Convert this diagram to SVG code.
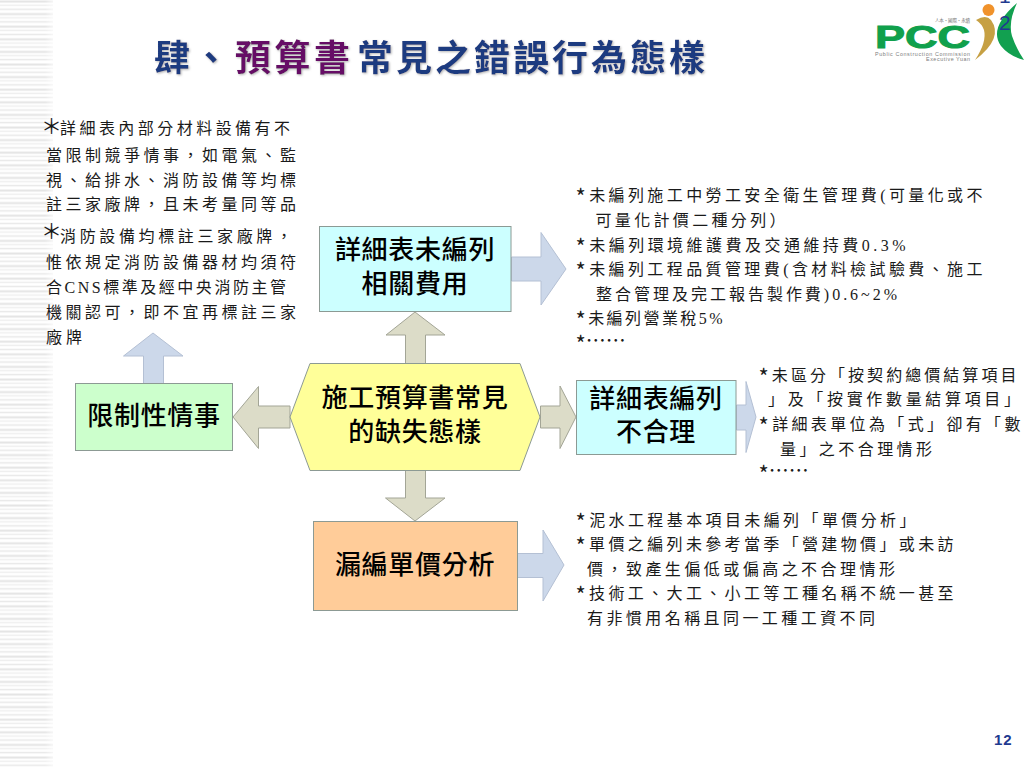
<svg xmlns="http://www.w3.org/2000/svg" width="1024" height="768" viewBox="0 0 1024 768">
<style>
.b{font-family:"Liberation Serif","Noto Sans CJK TC",serif;font-size:16px;fill:#1a1a1a}
.a{font-family:"Noto Sans CJK TC",sans-serif;font-size:22px}
.e{font-family:"Noto Sans CJK TC",sans-serif;font-size:20px}
.n{font-family:"Liberation Sans","Noto Sans CJK TC",sans-serif;font-size:26px;font-weight:500;fill:#000;text-anchor:middle;letter-spacing:.7px}
.box{stroke:#8c9a94;stroke-width:1}
.ag{fill:#dcdcc8;stroke:#a3a596;stroke-width:1}
.ab{fill:#ccd8ea;stroke:#b4c0d4;stroke-width:1}
.t{font-family:"Liberation Serif","Noto Sans CJK TC",serif;font-size:36px;font-weight:700;letter-spacing:3px;filter:url(#sh)}
.big{font-family:"Noto Sans CJK TC",sans-serif;font-size:21px;fill:#1a1a1a}
</style>
<defs>
<filter id="sh" x="-5%" y="-20%" width="110%" height="140%"><feDropShadow dx="1" dy="1" stdDeviation=".8" flood-color="#b5b5b5"/></filter>
<pattern id="st" width="53" height="12.6" patternUnits="userSpaceOnUse">
<rect width="53" height="2" y="0.5" fill="#e4e4e4"/><rect width="53" height="1.5" y="4.5" fill="#efefef"/><rect width="53" height="1.5" y="8.5" fill="#e8e8e8"/>
</pattern>
<linearGradient id="fade"><stop offset="0" stop-color="#fff" stop-opacity="0"/><stop offset="1" stop-color="#fff" stop-opacity=".6"/></linearGradient>
</defs>
<rect width="1024" height="768" fill="#fff"/>
<g id="stripes"><rect width="53" height="768" fill="url(#st)"/><rect x="45" width="8" height="768" fill="url(#fade)"/></g>
<g id="title"><text class="t" y="71"><tspan x="154" fill="#1f3a80">肆、</tspan><tspan x="235" fill="#660a66" letter-spacing="3.5">預算書</tspan><tspan x="357" fill="#1f3a80">常見之錯誤行為態樣</tspan></text></g>
<g id="logo">
<text x="875" y="47.5" font-family="Liberation Sans" font-weight="700" font-size="31" fill="#10a04c" textLength="95" lengthAdjust="spacingAndGlyphs" stroke="#10a04c" stroke-width="1">PCC</text>
<text x="875" y="56" font-family="Liberation Sans" font-size="5.4" fill="#7d7d7d" textLength="95">Public Construction Commission</text>
<text x="926" y="61" font-family="Liberation Sans" font-size="5.4" fill="#7d7d7d" textLength="44">Executive Yuan</text>
<text x="935" y="22" font-family="Noto Sans CJK TC" font-size="4.5" fill="#7a7a7a" textLength="35">人本‧國際‧永續</text>
<circle cx="988.5" cy="10" r="6" fill="#f0922b"/>
<path d="M976 20Q986 14 991 20Q1004 38 975 60Q987 42 984 30Q982 24 976 20Z" fill="#c6a043"/>
<path d="M1017 3Q988 28 1001 46Q1009 56 1024 60Q1016 48 1012 36Q1008 22 1017 3Z" fill="#12a050"/>
<text x="999" y="3" font-family="Liberation Sans" font-size="21" fill="#1f3a90">1</text>
<text x="999" y="30" font-family="Liberation Sans" font-size="21" fill="#1f3a90">2</text>
</g>
<g id="connectors">
<path class="ag" d="M415 312L445 335H425.5V363.5H405.5V335H386Z"/>
<path class="ab" d="M153 333L183 356H163.5V383.5H143.5V356H123.5Z"/>
<path class="ag" d="M233 417L258.5 386.5V406H290V428H258.5V448.5Z"/>
<path class="ag" d="M576 417L560 386V406H540.5V428H560V448.5Z"/>
<path class="ag" d="M415 521L445 498H425.5V470.5H405.5V498H385.5Z"/>
<path class="ab" d="M566 269L541 232.5V257H511.5V281H541V305Z"/>
<path class="ab" d="M756 417L746 381.5V405H736.5V430H746V452.5Z"/>
<path class="ab" d="M564 565L543 530V553.5H517.5V577.5H543V601Z"/>
</g>
<g id="node-fee"><rect class="box" x="319.5" y="226.5" width="191.5" height="85" fill="#ccffff"/><text class="n" x="415" y="259">詳細表未編列</text><text class="n" x="415" y="293">相關費用</text></g>
<g id="node-limit"><rect class="box" x="75.5" y="383.5" width="157" height="67" fill="#ccffcc"/><text class="n" x="154" y="425">限制性情事</text></g>
<g id="node-center"><path class="box" d="M290 417L310 363.5H520L540 417L520 470.5H310Z" fill="#ffff99"/><text class="n" x="415" y="407">施工預算書常見</text><text class="n" x="415" y="441">的缺失態樣</text></g>
<g id="node-detail"><rect class="box" x="576.5" y="380.5" width="159.5" height="74" fill="#ccffff"/><text class="n" x="656" y="408">詳細表編列</text><text class="n" x="656" y="441">不合理</text></g>
<g id="node-price"><rect class="box" x="313.5" y="521.5" width="204" height="89" fill="#ffcc99"/><text class="n" x="415" y="574">漏編單價分析</text></g>
<g id="notes-left">
<text class="big" x="41" y="134">＊</text>
<text class="b" x="60" y="134" textLength="230">詳細表內部分材料設備有不</text>
<text class="b" x="46" y="161" textLength="250">當限制競爭情事，如電氣、監</text>
<text class="b" x="46" y="186" textLength="250">視、給排水、消防設備等均標</text>
<text class="b" x="46" y="210" textLength="250">註三家廠牌，且未考量同等品</text>
<text class="big" x="41" y="239">＊</text>
<text class="b" x="60" y="242" textLength="232">消防設備均標註三家廠牌，</text>
<text class="b" x="46" y="268" textLength="250">惟依規定消防設備器材均須符</text>
<text class="b" x="46" y="293" textLength="240">合CNS標準及經中央消防主管</text>
<text class="b" x="46" y="318" textLength="250">機關認可，即不宜再標註三家</text>
<text class="b" x="46" y="343" textLength="36">廠牌</text>
</g>
<g id="notes-fee">
<text class="b" x="575.5" y="201" textLength="407"><tspan class="a" dy="4">*</tspan><tspan dy="-4">未編列施工中勞工安全衛生管理費(可量化或不</tspan></text>
<text class="b" x="595.5" y="226" textLength="190">可量化計價二種分列）</text>
<text class="b" x="575.5" y="251" textLength="330"><tspan class="a" dy="4">*</tspan><tspan dy="-4">未編列環境維護費及交通維持費0.3%</tspan></text>
<text class="b" x="575.5" y="275" textLength="407"><tspan class="a" dy="4">*</tspan><tspan dy="-4">未編列工程品質管理費(含材料檢試驗費、施工</tspan></text>
<text class="b" x="596" y="300" textLength="301">整合管理及完工報告製作費)0.6~2%</text>
<text class="b" x="575.5" y="324" textLength="147"><tspan class="a" dy="4">*</tspan><tspan dy="-4">未編列營業稅5%</tspan></text>
<text class="b" x="575.5" y="348"><tspan class="a" dy="4">*</tspan><tspan class="e" dy="-4">……</tspan></text>
</g>
<g id="notes-detail">
<text class="b" x="758.5" y="381" textLength="258"><tspan class="a" dy="4">*</tspan><tspan dy="-4">未區分「按契約總價結算項目</tspan></text>
<text class="b" x="768" y="405" textLength="252">」及「按實作數量結算項目」</text>
<text class="b" x="758.5" y="430" textLength="262"><tspan class="a" dy="4">*</tspan><tspan dy="-4">詳細表單位為「式」卻有「數</tspan></text>
<text class="b" x="780" y="455" textLength="152">量」之不合理情形</text>
<text class="b" x="758.5" y="478"><tspan class="a" dy="4">*</tspan><tspan class="e" dy="-4">……</tspan></text>
</g>
<g id="notes-price">
<text class="b" x="575.5" y="526" textLength="340"><tspan class="a" dy="4">*</tspan><tspan dy="-4">泥水工程基本項目未編列「單價分析」</tspan></text>
<text class="b" x="575.5" y="550" textLength="378"><tspan class="a" dy="4">*</tspan><tspan dy="-4">單價之編列未參考當季「營建物價」或未訪</tspan></text>
<text class="b" x="587" y="575" textLength="308">價，致產生偏低或偏高之不合理情形</text>
<text class="b" x="575.5" y="599" textLength="378"><tspan class="a" dy="4">*</tspan><tspan dy="-4">技術工、大工、小工等工種名稱不統一甚至</tspan></text>
<text class="b" x="587" y="624" textLength="288">有非慣用名稱且同一工種工資不同</text>
</g>
<text id="page" x="994" y="745" font-family="Liberation Sans" font-weight="700" font-size="15" letter-spacing=".8" fill="#1f3a90">12</text>
</svg>
